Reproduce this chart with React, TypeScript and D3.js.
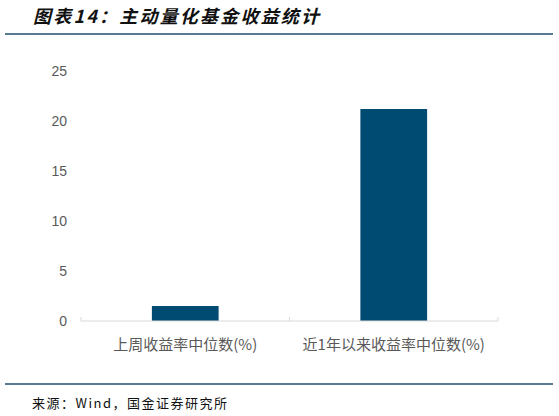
import { useEffect, useRef } from 'react';
import * as d3 from 'd3';

const categories = ['上周收益率中位数(%)', '近1年以来收益率中位数(%)'];
const values = [1.5, 21.2];
const yTicks = [0, 5, 10, 15, 20, 25];

const titleText = '图表14：主动量化基金收益统计';
const sourceText = '来源：Wind，国金证券研究所';

function App() {
    const chartRef = useRef(null);

    useEffect(() => {
        const svg = d3.select(chartRef.current);
        svg.selectAll('*').remove();

        const x = d3
            .scaleBand()
            .domain(categories)
            .range([81, 498])
            .paddingInner(0.68)
            .paddingOuter(0.34);
        const y = d3.scaleLinear().domain([0, 25]).range([321, 71]);

        // title + rules
        svg.append('text')
            .attr('x', 33)
            .attr('y', 23)
            .attr('font-family', '"Noto Sans CJK SC", sans-serif')
            .attr('font-size', 18)
            .attr('font-weight', 'bold')
            .attr('font-style', 'italic')
            .attr('letter-spacing', 2.2)
            .attr('fill', '#111')
            .text(titleText);

        svg.append('line')
            .attr('x1', 5).attr('x2', 553)
            .attr('y1', 34).attr('y2', 34)
            .attr('stroke', '#1e4f6e').attr('stroke-width', 1.6);

        svg.append('line')
            .attr('x1', 5).attr('x2', 553)
            .attr('y1', 384).attr('y2', 384)
            .attr('stroke', '#1e4f6e').attr('stroke-width', 1.6);

        svg.append('text')
            .attr('x', 32)
            .attr('y', 408)
            .attr('font-family', '"Noto Sans CJK SC", monospace')
            .attr('font-size', 13)
            .attr('letter-spacing', 1.5)
            .attr('fill', '#111')
            .text(sourceText);

        // y labels
        svg.append('g')
            .selectAll('text')
            .data(yTicks)
            .enter()
            .append('text')
            .attr('x', 67)
            .attr('y', (d) => y(d))
            .attr('dy', '0.35em')
            .attr('text-anchor', 'end')
            .attr('font-family', 'Liberation Sans, Arial, sans-serif')
            .attr('font-size', 14)
            .attr('fill', '#595959')
            .text((d) => d);

        // bars
        svg.append('g')
            .selectAll('rect')
            .data(values)
            .enter()
            .append('rect')
            .attr('x', (d, i) => x(categories[i]) as number)
            .attr('y', (d) => y(d))
            .attr('width', x.bandwidth())
            .attr('height', (d) => y(0) - y(d))
            .attr('fill', '#004b71');

        // x axis
        const axis = svg.append('g');
        axis.append('line')
            .attr('x1', 81).attr('x2', 498)
            .attr('y1', y(0)).attr('y2', y(0))
            .attr('stroke', '#d9d9d9');
        const step = x.step();
        const start = (x(categories[0]) as number) - step * 0.34;
        const bounds = [start, start + step, start + 2 * step];
        axis.selectAll('.tk')
            .data(bounds)
            .enter()
            .append('line')
            .attr('x1', (d) => d).attr('x2', (d) => d)
            .attr('y1', y(0) - 4).attr('y2', y(0))
            .attr('stroke', '#d9d9d9');

        axis.selectAll('.lab')
            .data(categories)
            .enter()
            .append('text')
            .attr('x', (d) => (x(d) as number) + x.bandwidth() / 2)
            .attr('y', 345)
            .attr('dy', '0.35em')
            .attr('text-anchor', 'middle')
            .attr('font-family', '"Noto Sans CJK SC", sans-serif')
            .attr('font-size', 15)
            .attr('fill', '#595959')
            .text((d) => d);
    }, []);

    return (
        <svg
            ref={chartRef}
            width="559"
            height="416"
            style={{ position: 'absolute', left: 0, top: 0, background: '#fff' }}
        ></svg>
    );
}

export default App;
